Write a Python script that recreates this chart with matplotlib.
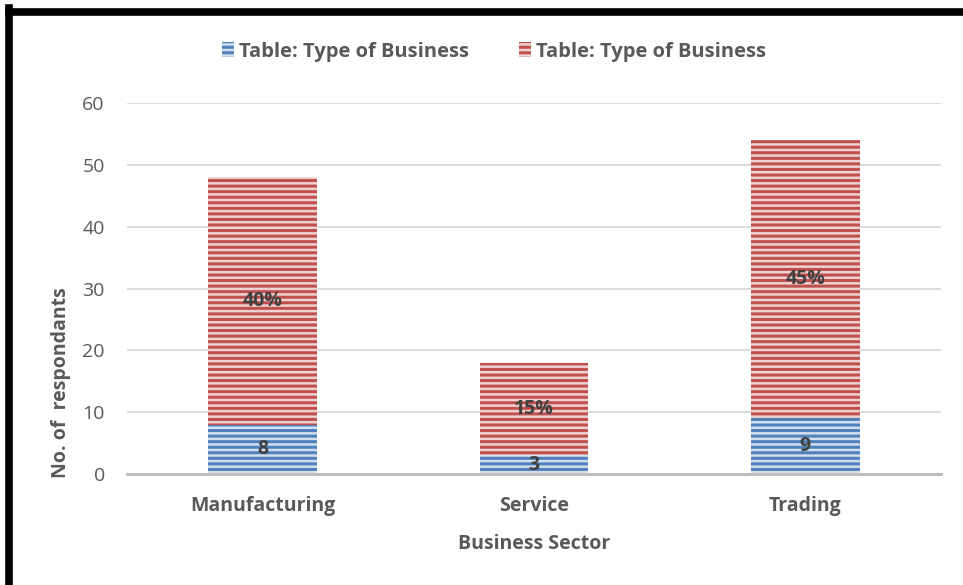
import matplotlib
matplotlib.use("Agg")
import matplotlib.pyplot as plt
from matplotlib.lines import Line2D

# data
sectors = ["Manufacturing", "Service", "Trading"]
counts = [8, 3, 9]
shares = [40, 15, 45]
legend_names = ["Table: Type of Business", "Table: Type of Business"]
yticks = [0, 10, 20, 30, 40, 50, 60]

BLUE_DARK, BLUE_LIGHT = "#4F81BD", "#D3DFEE"
RED_DARK, RED_LIGHT = "#C0504D", "#EFD3D2"
GRAY_TXT = "#595959"

plt.rcParams["font.family"] = ["Open Sans", "DejaVu Sans"]
plt.rcParams["hatch.linewidth"] = 2.2

fig = plt.figure(figsize=(9.63, 5.85), dpi=100)
ax = fig.add_axes([127 / 963, 1 - 474 / 585, (941 - 127) / 963, (474 - 103) / 585])

x = list(range(len(sectors)))
b1 = ax.bar(x, counts, width=0.4, color=BLUE_LIGHT, edgecolor=BLUE_DARK,
            hatch="---", linewidth=0, zorder=2, label=legend_names[0])
b2 = ax.bar(x, shares, width=0.4, bottom=counts, color=RED_LIGHT, edgecolor=RED_DARK,
            hatch="---", linewidth=0, zorder=2, label=legend_names[1])

for xi, c, s in zip(x, counts, shares):
    ax.text(xi, c / 2, str(c), ha="center", va="center", fontsize=14,
            fontweight="bold", color="#404040", zorder=3)
    ax.text(xi, c + s / 2, f"{s}%", ha="center", va="center", fontsize=14,
            fontweight="bold", color="#404040", zorder=3)

ax.set_xlim(-0.5, 2.5)
ax.set_ylim(0, 60)
ax.set_yticks(yticks)
ax.set_xticks(x)
ax.set_xticklabels(sectors, fontweight="bold", fontsize=14, color=GRAY_TXT)
ax.tick_params(axis="y", length=0, pad=16, labelsize=14, labelcolor=GRAY_TXT)
ax.tick_params(axis="x", length=0, pad=15.5)
ax.grid(axis="y", color="#D9D9D9", linewidth=1.3, zorder=0)
for sp in ["top", "right", "left"]:
    ax.spines[sp].set_visible(False)
ax.spines["bottom"].set_color("#BFBFBF")
ax.spines["bottom"].set_linewidth(2.2)
ax.spines["bottom"].set_zorder(3)

ax.set_xlabel("Business Sector", fontweight="bold", fontsize=14, color=GRAY_TXT, labelpad=13)
ax.set_ylabel("No. of  respondants", fontweight="bold", fontsize=14, color=GRAY_TXT)
ax.yaxis.set_label_coords(-0.069, 0.245)

fig.legend(handles=[b1, b2], labels=legend_names, loc="center",
           bbox_to_anchor=(494 / 963, 1 - 51.5 / 585), ncol=2, frameon=False,
           prop={"weight": "bold", "size": 14.5}, labelcolor=GRAY_TXT,
           handlelength=0.6, handleheight=0.8, handletextpad=0.25, columnspacing=2.5)

# thick frame visible on the top and left edges
fig.add_artist(Line2D([8.5 / 963, 8.5 / 963], [0, 1 - 8 / 585], color="black", lw=5.5,
                      solid_capstyle="projecting", transform=fig.transFigure))
fig.add_artist(Line2D([8.5 / 963, 1], [1 - 11.5 / 585, 1 - 11.5 / 585], color="black", lw=5.5,
                      solid_capstyle="projecting", transform=fig.transFigure))

fig.savefig("out.png", dpi=100)
